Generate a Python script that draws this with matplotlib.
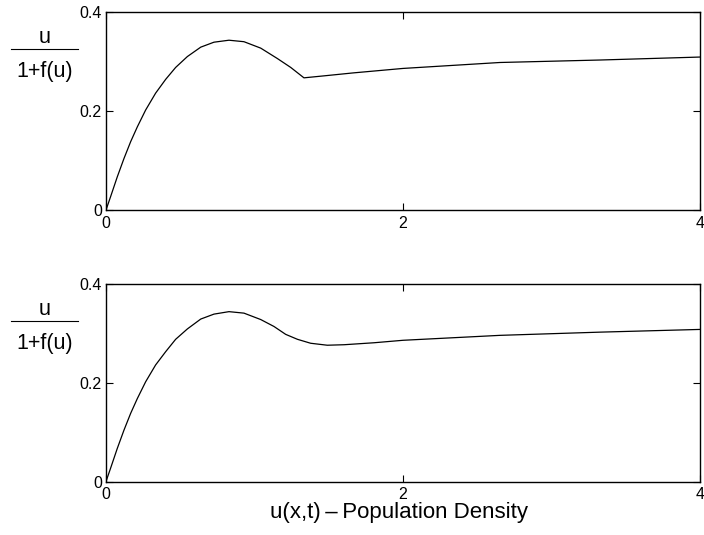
import numpy as np
import matplotlib
matplotlib.use("Agg")
import matplotlib.pyplot as plt
from matplotlib.lines import Line2D

plt.rcParams['font.family'] = ['Liberation Sans', 'DejaVu Sans']

# population density u and u/(1+f(u)); upper panel: f with a corner
u_top = [0.0, 0.031, 0.076, 0.121, 0.166, 0.211, 0.267, 0.334, 0.402, 0.469, 0.548,
         0.638, 0.727, 0.828, 0.929, 1.042, 1.154, 1.244, 1.333, 1.468, 1.666, 2.0,
         2.653, 3.327, 4.0]
g_top = [0.0, 0.027, 0.067, 0.104, 0.138, 0.168, 0.202, 0.236, 0.264, 0.288, 0.310,
         0.329, 0.339, 0.343, 0.340, 0.327, 0.306, 0.288, 0.267, 0.271, 0.277, 0.286,
         0.298, 0.303, 0.309]

# lower panel: smooth f
u_bot = [0.0, 0.031, 0.076, 0.121, 0.166, 0.211, 0.267, 0.334, 0.402, 0.469, 0.548,
         0.638, 0.727, 0.828, 0.929, 1.042, 1.131, 1.210, 1.289, 1.378, 1.490, 1.603,
         1.805, 2.0, 2.653, 3.327, 4.0]
g_bot = [0.0, 0.027, 0.067, 0.104, 0.138, 0.168, 0.202, 0.236, 0.263, 0.288, 0.309,
         0.329, 0.339, 0.344, 0.341, 0.328, 0.314, 0.298, 0.288, 0.280, 0.276, 0.277,
         0.281, 0.286, 0.296, 0.3025, 0.308]

xticks = [0, 2, 4]
yticks = [0, 0.2, 0.4]
ytick_labels = ['0', '0.2', '0.4']

W, H = 704, 535
fig = plt.figure(figsize=(W / 100, H / 100), dpi=100)
ax1 = fig.add_axes([106 / W, 1 - 210 / H, 594 / W, 198 / H])
ax2 = fig.add_axes([106 / W, 1 - 481.5 / H, 594 / W, 197.5 / H])

for ax, u, g in [(ax1, u_top, g_top), (ax2, u_bot, g_bot)]:
    ax.plot(u, g, color='black', linewidth=0.9)
    ax.set_xlim(0, 4)
    ax.set_ylim(0, 0.4)
    ax.set_xticks(xticks)
    ax.set_xticklabels([str(t) for t in xticks])
    ax.set_yticks(yticks)
    ax.set_yticklabels(ytick_labels)
    ax.tick_params(direction='in', length=5, width=0.8, top=True, right=True,
                   labelsize=11.5)
    ax.tick_params(axis='x', pad=4)
    ax.tick_params(axis='y', pad=3)
    for s in ax.spines.values():
        s.set_linewidth(1.0)

    # fraction label u / (1+f(u)), placed in pixels below the axes top
    top = (1 - ax.get_position().y1) * H
    fig.text(45 / W, 1 - (top + 31) / H, 'u', ha='center', va='baseline', fontsize=15.5)
    fig.text(45 / W, 1 - (top + 65) / H, '1+f(u)', ha='center', va='baseline',
             fontsize=15.5)
    fig.add_artist(Line2D([11 / W, 78 / W], [1 - (top + 37) / H] * 2, color='black',
                          linewidth=0.8, transform=fig.transFigure))

fig.text(399 / W, 1 - 518 / H, 'u(x,t)\u2009\u2013\u2009Population Density', ha='center',
         va='baseline', fontsize=16)

fig.savefig('out.png', dpi=100)
